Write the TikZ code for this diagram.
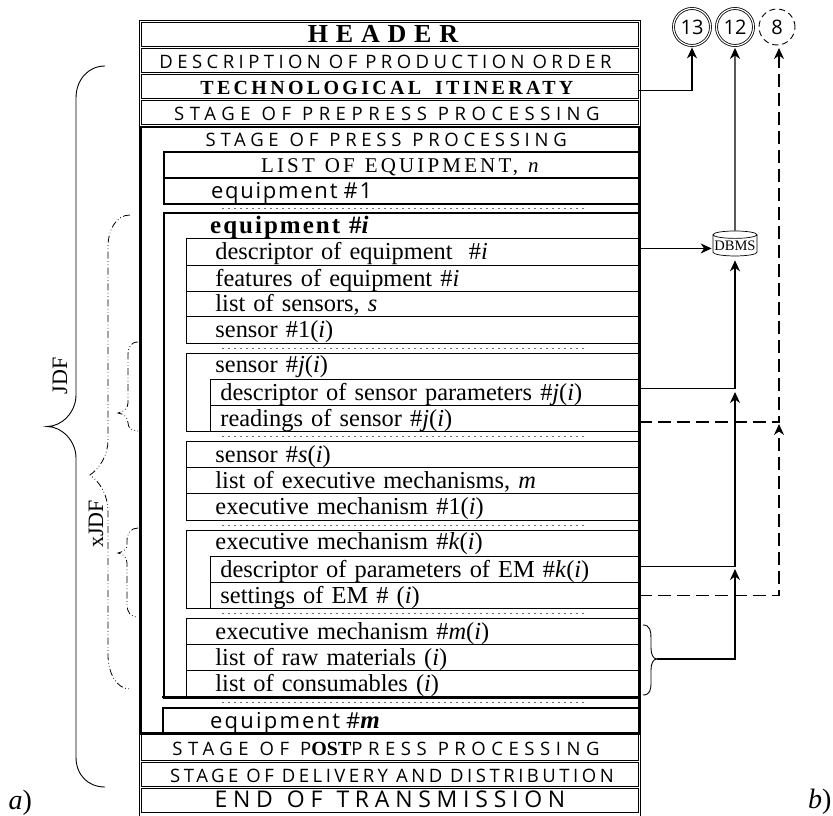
\documentclass[tikz,border=0pt]{standalone}
\usepackage{fontspec}
\usetikzlibrary{arrows.meta,shapes.geometric}
\setmainfont{Liberation Serif}
\newfontfamily\capsf{Open Sans}
\newcommand{\sfrow}[3]{\capsf\fontsize{#1}{#1}\selectfont\addfontfeatures{LetterSpace=#2}\spaceskip=#3pt\relax}
\newcommand{\rmrow}[3]{\rmfamily\fontsize{#1}{#1}\selectfont\addfontfeatures{LetterSpace=#2}\spaceskip=#3pt\relax}
\newcommand{\plainrm}{\rmfamily\fontsize{24.4}{24.4}\selectfont}
\newcommand{\rowbox}[8]{%
  \pgfmathsetlengthmacro{\rw}{#5-#3}%
  \pgfmathsetlengthmacro{\rh}{#6-#4}%
  \pgfmathsetlengthmacro{\tw}{#5-#3-2*#7}%
  \node[#2,anchor=north west,inner xsep=#7pt,inner ysep=0pt,text width=\tw,
        minimum height=\rh,text height=19pt,text depth=3pt] (#1) at (#3,#4) {#8};}
\tikzset{
  thinrow/.style={draw,line width=.9pt,align=left,font=\plainrm},
  plainrow/.style={align=left,font=\plainrm},
  plaincenter/.style={align=center},
  outerrow/.style={draw,line width=.9pt,align=center},
  thickrow/.style={draw,line width=2pt,align=center},
  thickleft/.style={draw,line width=2pt,align=left},
  framebox/.style={draw,anchor=north west,inner sep=0pt},
  dotrow/.style={draw=gray!85!black,line width=1.8pt,dash pattern=on 1.8pt off 4.2pt},
  flow/.style={draw,line width=1.4pt,-{Stealth[length=11pt,width=10pt,inset=3.5pt]}},
  flowdash/.style={flow,dash pattern=on 13pt off 6pt},
  num/.style={circle,draw,inner sep=0pt,minimum size=37pt,font=\capsf\fontsize{20}{20}\selectfont},
  brace/.style={draw,line width=.9pt},
  xbrace/.style={draw,line width=.8pt,dash pattern=on 7pt off 2.5pt on .7pt off 2.5pt on .7pt off 2.5pt},
  vlabel/.style={rotate=90,font=\rmfamily\fontsize{22}{22}\selectfont},
  corner/.style={font=\rmfamily\fontsize{28}{28}\selectfont}
}
\begin{document}
\begin{tikzpicture}[x=1pt,y=-1pt]
\useasboundingbox (0,0) rectangle (833,816);
% outer frame
\draw[line width=.9pt] (139,816) -- (139,20.5) -- (640,20.5) -- (640,816);
% top rows
\rowbox{header}{outerrow}{141}{22}{638}{46}{0}{\rmrow{26}{30}{8}\bfseries HEADER\kern14pt}
\rowbox{desc}{outerrow}{141}{48}{638}{72}{0}{\sfrow{18.5}{24}{8}DESCRIPTION OF PRODUCTION ORDER\kern9pt}
\rowbox{tech}{outerrow}{141}{74}{638}{98}{0}{\rmrow{20}{16.5}{14}\bfseries TECHNOLOGICAL ITINERATY\kern6pt}
\rowbox{prepress}{outerrow}{141}{100}{638}{124}{0}{\sfrow{18.5}{30}{11}STAGE OF PREPRESS PROCESSING\kern6pt}
% press frame
\node[framebox,line width=2pt,minimum width=498pt,minimum height=607pt] (pressframe) at (140,126) {};
\rowbox{press}{plaincenter}{141}{126}{638}{151}{0}{\sfrow{18.5}{25.5}{11}STAGE OF PRESS PROCESSING\kern7pt}
\rowbox{eqlist}{thickrow}{163}{151}{638}{176.5}{0}{\rmrow{21}{15}{10}LIST OF EQUIPMENT, \textit{n}}
\rowbox{eqone}{thickleft}{163}{177}{638}{202.5}{47}{\sfrow{22}{8}{6}equipment \#1}
\coordinate (d1a) at (222,208.5); \coordinate (d1b) at (584,208.5);
\draw[dotrow] (d1a) -- (d1b);
% equipment i frame
\node[framebox,line width=2pt,minimum width=475pt,minimum height=485pt] (eqiframe) at (163,212) {};
\rowbox{eqihead}{plainrow}{163}{212}{638}{238}{47}{\rmrow{25}{8}{9}\bfseries equipment \#\textit{i}}
\rowbox{eqdesc}{thinrow}{186}{238}{638}{265}{29}{descriptor of equipment~~\#\textit{i}}
\rowbox{eqfeat}{thinrow}{186}{265}{638}{291}{29}{features of equipment \#\textit{i}}
\rowbox{senslist}{thinrow}{186}{291}{638}{316}{29}{list of sensors, \textit{s}}
\rowbox{sensone}{thinrow}{186}{316}{638}{343}{29}{sensor \#1(\textit{i})}
\coordinate (d2a) at (222,348.5); \coordinate (d2b) at (584,348.5);
\draw[dotrow] (d2a) -- (d2b);
\rowbox{sensj}{thinrow}{186}{353}{638}{431}{29}{\vspace{-52pt}\par sensor \#\textit{j}(\textit{i})}
\rowbox{sensjd}{thinrow}{210}{379}{638}{405}{10}{descriptor of sensor parameters \#\textit{j}(\textit{i})}
\rowbox{sensjr}{thinrow}{210}{405}{638}{431}{10}{readings of sensor \#\textit{j}(\textit{i})}
\coordinate (d3a) at (222,436.5); \coordinate (d3b) at (584,436.5);
\draw[dotrow] (d3a) -- (d3b);
\rowbox{senss}{thinrow}{186}{441}{638}{467}{29}{sensor \#\textit{s}(\textit{i})}
\rowbox{emlist}{thinrow}{186}{467}{638}{493}{29}{list of executive mechanisms, \textit{m}}
\rowbox{emone}{thinrow}{186}{493}{638}{520}{29}{executive mechanism \#1(\textit{i})}
\coordinate (d4a) at (222,525.5); \coordinate (d4b) at (584,525.5);
\draw[dotrow] (d4a) -- (d4b);
\rowbox{emk}{thinrow}{186}{530}{638}{608}{29}{\vspace{-52pt}\par executive mechanism \#\textit{k}(\textit{i})}
\rowbox{emkd}{thinrow}{210}{556}{638}{582}{10}{descriptor of parameters of EM \#\textit{k}(\textit{i})}
\rowbox{emks}{thinrow}{210}{582}{638}{608}{10}{settings of EM \# (\textit{i})}
\coordinate (d5a) at (222,613.5); \coordinate (d5b) at (584,613.5);
\draw[dotrow] (d5a) -- (d5b);
\rowbox{emm}{thinrow}{186}{618}{638}{644}{29}{executive mechanism \#\textit{m}(\textit{i})}
\rowbox{raw}{thinrow}{186}{644}{638}{670}{29}{list of raw materials (\textit{i})}
\rowbox{cons}{thinrow}{186}{670}{638}{697}{29}{list of consumables (\textit{i})}
\draw[line width=2pt] (162,697) -- (638,697);
\coordinate (d6a) at (222,702.5); \coordinate (d6b) at (584,702.5);
\draw[dotrow] (d6a) -- (d6b);
\rowbox{eqm}{plainrow}{163}{708}{638}{733}{47}{\sfrow{22}{10}{6}equipment \#{\rmfamily\bfseries\itshape\fontsize{25}{25}\selectfont m}}
\draw[line width=2pt] (eqm.north east) -- (eqm.north west) -- (eqm.south west);
\draw[line width=2pt] (140,733) -- (638,733);
% bottom rows
\rowbox{post}{outerrow}{141}{734}{638}{760}{0}{\sfrow{18.5}{30}{11}STAGE OF P{\rmfamily\bfseries\fontsize{20}{20}\selectfont OST}PRESS PROCESSING\kern8pt}
\rowbox{deliv}{outerrow}{141}{761.5}{638}{786}{0}{\sfrow{18.5}{19}{8}STAGE OF DELIVERY AND DISTRIBUTION\kern-4pt}
\rowbox{eot}{outerrow}{141}{787.5}{638}{811.5}{0}{\sfrow{23}{25}{14}END OF TRANSMISSION}
% circles and DBMS
\node[num,double,double distance=1.2pt,line width=.8pt] (c13) at (692,27) {13};
\node[num,double,double distance=1.2pt,line width=.8pt] (c12) at (735,27) {12};
\node[num,dash pattern=on 6pt off 4pt,line width=.9pt,minimum size=36pt] (c8) at (777,27) {8};
\node[cylinder,shape border rotate=90,aspect=.18,draw,line width=.7pt,inner sep=0pt,
      minimum height=25pt,minimum width=44pt,font=\rmfamily\fontsize{14.5}{14.5}\selectfont] (dbms) at (735,245.5) {\raisebox{-3pt}{DBMS}};
% junctions
\coordinate (j1) at (735,392);
\coordinate (j2) at (735,569);
\coordinate (j3) at (779,424);
\coordinate (top8) at (779,45);
\coordinate (brtip) at (657,659);
\coordinate (edout) at ([yshift=3.5pt]eqdesc.east);
% connectors
\draw[flow,shorten >=1.5pt] ([yshift=-4pt]tech.east) -| (c13.south);
\draw[flow,shorten >=1pt] (edout) -- (edout -| dbms.west);
\draw[flow,shorten >=2pt] (dbms.north) -- (c12.south);
\draw[flow,shorten >=4pt] ([yshift=4pt]sensjd.east) -| (dbms.south);
\draw[flow] ([yshift=3pt]emkd.east) -| (j1);
\draw[flow] (brtip) -| (j2);
\draw[flowdash,shorten >=3pt] ([yshift=-3.7pt]sensjr.east) -| (top8);
\draw[flowdash] (emks.east) -| (j3);
% right brace
\coordinate (rb1) at (643,625); \coordinate (rb2) at (643,695);
\draw[brace] (rb1) .. controls (650,625) and (651,631) .. (651,638) -- (651,648)
  .. controls (651,654) and (653,659) .. (brtip)
  .. controls (653,659) and (651,664) .. (651,670) -- (651,682)
  .. controls (651,690) and (650,695) .. (rb2);
% JDF brace
\coordinate (ja) at (105,66); \coordinate (jb) at (105,787); \coordinate (jt) at (47,426.5);
\draw[brace] (ja) .. controls (88,66) and (76,80) .. (76,98) -- (76,395)
  .. controls (76,412) and (62,426.5) .. (jt)
  .. controls (62,426.5) and (76,441) .. (76,458) -- (76,757)
  .. controls (76,775) and (88,787) .. (jb);
% xJDF brace
\coordinate (xa) at (130,215); \coordinate (xb) at (130,689); \coordinate (xt) at (90,475);
\draw[xbrace] (xa) .. controls (116,215) and (108,230) .. (108,247) -- (108,440)
  .. controls (108,455) and (100,468) .. (xt)
  .. controls (100,482) and (108,495) .. (108,512) -- (108,655)
  .. controls (108,672) and (116,689) .. (xb);
% small braces
\coordinate (s1a) at (138,342); \coordinate (s1b) at (138,431); \coordinate (s1t) at (118,413);
\draw[xbrace] (s1a) .. controls (131,342) and (128,347) .. (128,355) -- (128,403)
  .. controls (128,408) and (124,412) .. (s1t)
  .. controls (124,414) and (128,417) .. (128,423)
  .. controls (128,428) and (132,431) .. (s1b);
\coordinate (s2a) at (138,528); \coordinate (s2b) at (137,617); \coordinate (s2t) at (118,553);
\draw[xbrace] (s2a) .. controls (131,528) and (127,533) .. (127,541) -- (127,545)
  .. controls (127,549) and (123,552) .. (s2t)
  .. controls (123,554) and (127,557) .. (127,563) -- (127,605)
  .. controls (127,612) and (131,617) .. (s2b);
% labels
\node[vlabel] (jdf) at (60,376) {JDF};
\node[vlabel] (xjdf) at (96,524) {xJDF};
\node[corner,anchor=west] (la) at (5,803) {\textit{a})};
\node[corner,anchor=east] (lb) at (835,802) {\textit{b})};
\end{tikzpicture}
\end{document}
